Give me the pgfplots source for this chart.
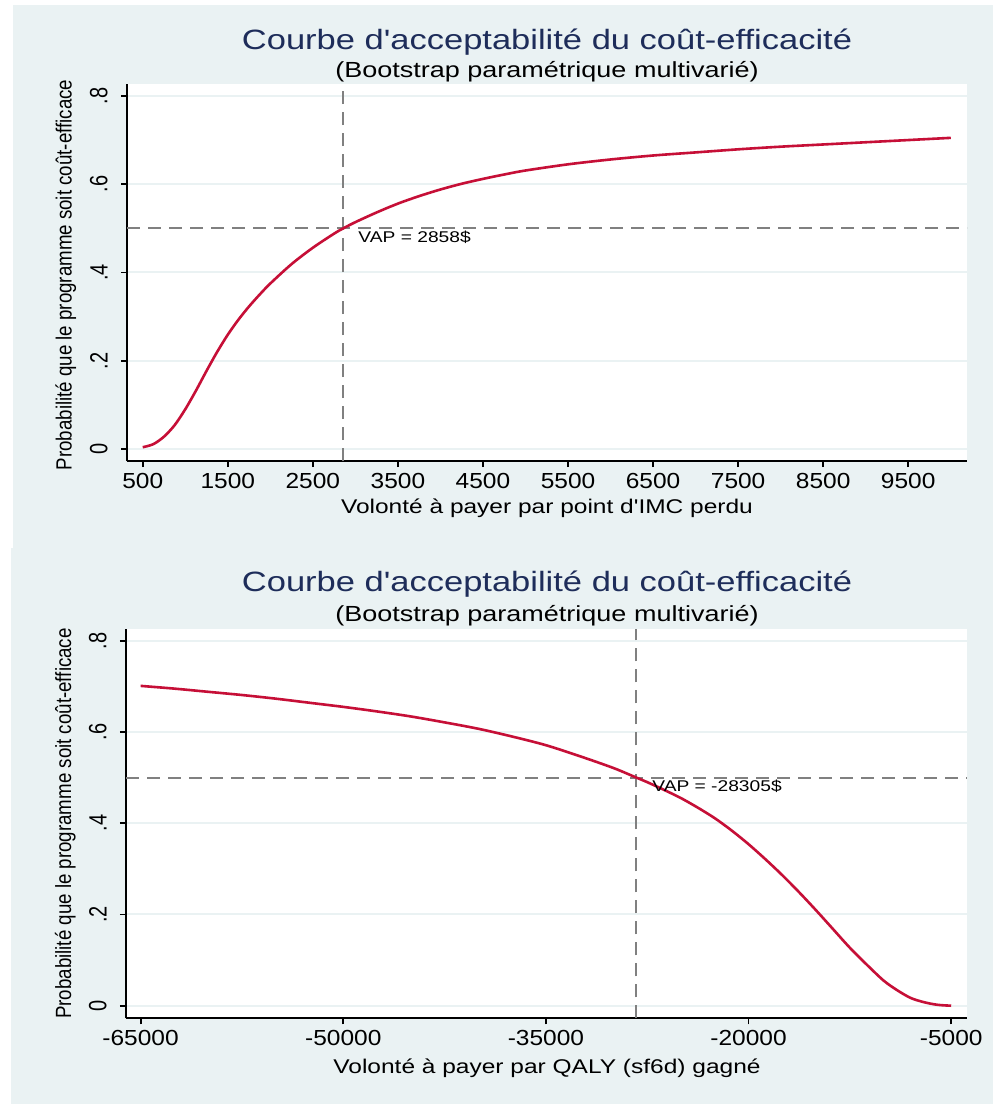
\documentclass[border=0pt]{standalone}
\usepackage{fontspec}
\setmainfont{Liberation Sans}
\usepackage{graphicx}
\usepackage{pgfplots}
\pgfplotsset{compat=1.18}
\definecolor{bgc}{RGB}{234,242,243}
\definecolor{ttl}{RGB}{30,45,90}
\definecolor{crv}{RGB}{198,15,55}
\definecolor{dsh}{RGB}{128,128,128}
\newcommand\hs[1]{\scalebox{1}[0.81]{#1}}
\newcommand\xs[1]{\scalebox{1}[0.89]{#1}}
\newcommand\vs[1]{\scalebox{0.8}[1]{#1}}
\newcommand\vsl[1]{\scalebox{0.85}[1]{#1}}
\pgfplotsset{stata/.style={
  scale only axis,
  scaled x ticks=false, scaled y ticks=false,
  axis x line*=bottom, axis y line*=left,
  axis line style={-, black, line width=1pt},
  axis background/.style={fill=white},
  tick align=outside, major tick length=3pt,
  tick style={black, line width=0.9pt},
  ymajorgrids, grid style={bgc, line width=1pt},
  ytick={0,0.2,0.4,0.6,0.8},
  yticklabels={\vs{0},\vs{.2},\vs{.4},\vs{.6},\vs{.8}},
  xticklabel style={anchor=north, inner sep=0pt, font=\fontsize{12.25}{13}\selectfont},
  yticklabel style={rotate=90, anchor=south, inner sep=0pt, font=\fontsize{12.5}{13}\selectfont},
  xticklabel shift=3pt,
  yticklabel shift=6.5pt,
  minor tick num=0,
}}
\begin{document}
\begin{tikzpicture}
\path[use as bounding box] (0,0) rectangle (496.5pt,-552pt);
\fill[bgc] (6.5pt,-2.5pt) rectangle (496.5pt,-273.75pt);
\fill[bgc] (5.5pt,-273.75pt) rectangle (496.5pt,-552pt);

% ---------- top panel ----------
\begin{axis}[stata, at={(63.5pt,-42pt)}, anchor=north west,
  width=420pt, height=188.5pt,
  xmin=315, xmax=10191, ymin=-0.0272, ymax=0.827,
  xtick={500,1500,2500,3500,4500,5500,6500,7500,8500,9500},
  xticklabels={\xs{500},\xs{1500},\xs{2500},\xs{3500},\xs{4500},\xs{5500},\xs{6500},\xs{7500},\xs{8500},\xs{9500}}]
\addplot[dsh, line width=1pt, dash pattern=on 6.5pt off 4pt] coordinates {(315,0.5) (10191,0.5)};
\addplot[dsh, line width=1pt, dash pattern=on 6.5pt off 4pt] coordinates {(2858,-0.0272) (2858,0.827)};
\addplot[crv, line width=1.3pt, smooth] coordinates {
(500,0.004) (625,0.011) (750,0.028) (875,0.054) (1000,0.090) (1125,0.132)
(1250,0.177) (1375,0.220) (1500,0.259) (1625,0.293) (1750,0.323) (1875,0.350)
(2000,0.375) (2250,0.419) (2500,0.456) (2750,0.488) (2858,0.500) (3000,0.514)
(3250,0.536) (3500,0.556) (3750,0.573) (4000,0.588) (4250,0.601) (4500,0.612)
(4750,0.622) (5000,0.631) (5500,0.645) (6000,0.656) (6500,0.665) (7000,0.672)
(7500,0.679) (8000,0.685) (8500,0.690) (9000,0.695) (9500,0.700) (10000,0.705)};
\node[anchor=west, inner sep=0pt, font=\fontsize{9.6}{10}\selectfont] at (axis cs:3032,0.48) {\hs{VAP = 2858\$}};
\end{axis}

% ---------- bottom panel ----------
\begin{axis}[stata, at={(63pt,-314.65pt)}, anchor=north west,
  width=420.5pt, height=194.5pt,
  xmin=-66081, xmax=-3830, ymin=-0.0276, ymax=0.825,
  xtick={-65000,-50000,-35000,-20000,-5000},
  xticklabels={\xs{-65000},\xs{-50000},\xs{-35000},\xs{-20000},\xs{-5000}}]
\addplot[dsh, line width=1pt, dash pattern=on 6.5pt off 4pt] coordinates {(-66081,0.5) (-3830,0.5)};
\addplot[dsh, line width=1pt, dash pattern=on 6.5pt off 4pt] coordinates {(-28305,-0.0276) (-28305,0.825)};
\addplot[crv, line width=1.3pt, smooth] coordinates {
(-65000,0.701) (-62500,0.695) (-60000,0.688) (-57500,0.681) (-55000,0.673)
(-52500,0.664) (-50000,0.655) (-47500,0.645) (-45000,0.634) (-42500,0.621)
(-40000,0.607) (-37500,0.590) (-35000,0.571) (-32500,0.547) (-30000,0.521)
(-28305,0.500) (-27500,0.490) (-26250,0.473) (-25000,0.455) (-23750,0.434)
(-22500,0.411) (-21250,0.384)
(-20000,0.354) (-18750,0.321) (-17500,0.286) (-16250,0.2485) (-15000,0.209)
(-13750,0.168) (-12500,0.127) (-11250,0.090) (-10000,0.055) (-9000,0.034)
(-8000,0.017) (-7000,0.0076) (-6000,0.0019) (-5000,0.000)};
\node[anchor=west, inner sep=0pt, font=\fontsize{9.6}{10}\selectfont] at (axis cs:-27148,0.48) {\hs{VAP = -28305\$}};
\end{axis}

% ---------- texts ----------
\node[anchor=base, text=ttl, inner sep=0pt, font=\fontsize{17.25}{18}\selectfont] at (273.5pt,-24.5pt) {\hs{Courbe d\textquotesingle acceptabilité du coût-efficacité}};
\node[anchor=base, inner sep=0pt, font=\fontsize{13.5}{14}\selectfont] at (273.5pt,-38.75pt) {\hs{(Bootstrap paramétrique multivarié)}};
\node[anchor=base, inner sep=0pt, font=\fontsize{12.25}{13}\selectfont] at (273.5pt,-256.5pt) {\hs{Volonté à payer par point d\textquotesingle IMC perdu}};
\node[rotate=90, anchor=base, inner sep=0pt, font=\fontsize{11}{12}\selectfont] at (35.85pt,-137.5pt) {\vsl{Probabilité que le programme soit coût-efficace}};

\node[anchor=base, text=ttl, inner sep=0pt, font=\fontsize{17.25}{18}\selectfont] at (273.5pt,-295.5pt) {\hs{Courbe d\textquotesingle acceptabilité du coût-efficacité}};
\node[anchor=base, inner sep=0pt, font=\fontsize{13.5}{14}\selectfont] at (273.5pt,-310.5pt) {\hs{(Bootstrap paramétrique multivarié)}};
\node[anchor=base, inner sep=0pt, font=\fontsize{12.25}{13}\selectfont] at (273.5pt,-536.5pt) {\hs{Volonté à payer par QALY (sf6d) gagné}};
\node[rotate=90, anchor=base, inner sep=0pt, font=\fontsize{11}{12}\selectfont] at (35.5pt,-411.75pt) {\vsl{Probabilité que le programme soit coût-efficace}};
\end{tikzpicture}
\end{document}
